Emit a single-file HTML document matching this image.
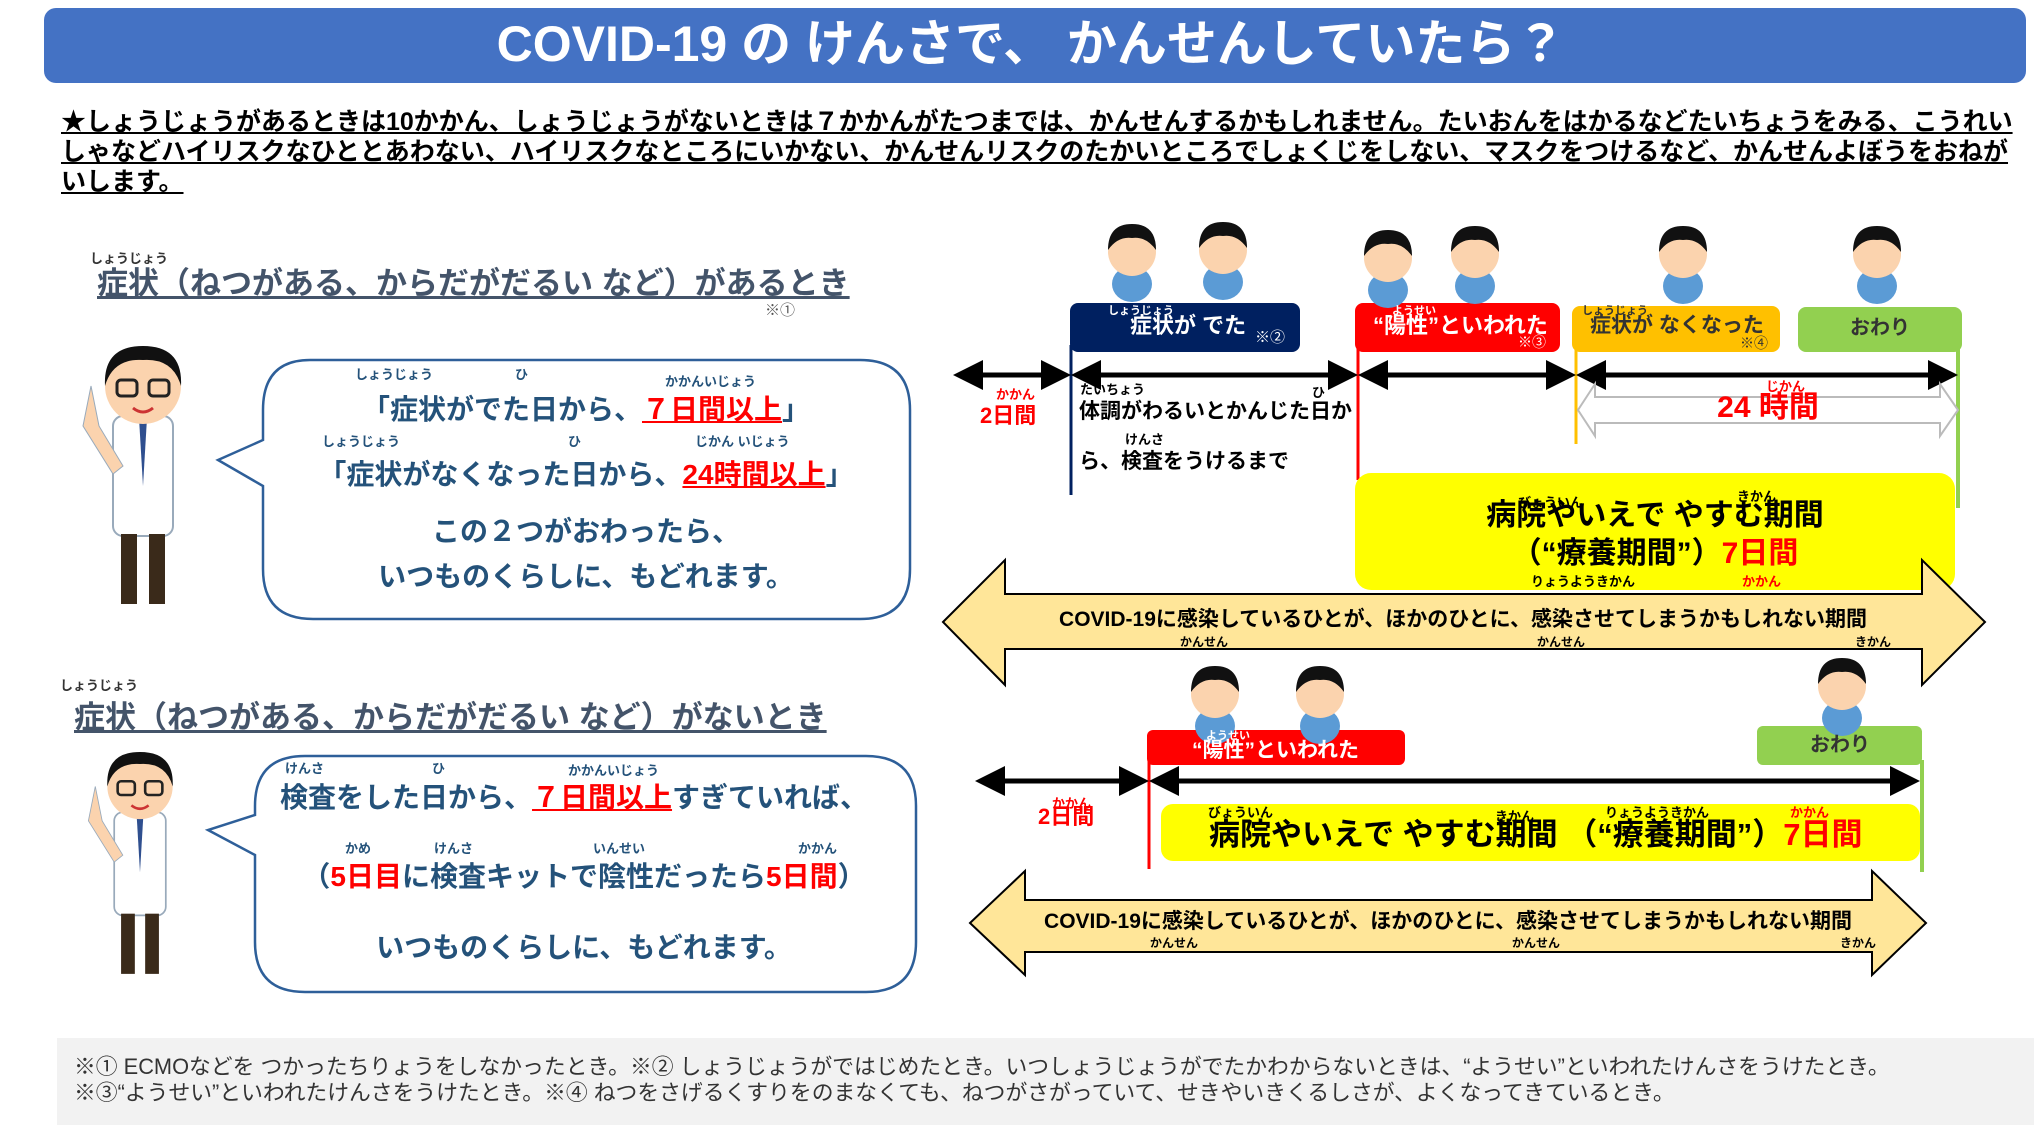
<!DOCTYPE html>
<html><head><meta charset="utf-8">
<style>
*{margin:0;padding:0;box-sizing:border-box}
body{width:2034px;height:1125px;position:relative;background:#fff;overflow:hidden;font-family:"Liberation Sans","Noto Sans CJK JP",sans-serif;font-weight:bold}
.a{position:absolute;white-space:nowrap;line-height:1}
.r{position:absolute;white-space:nowrap;line-height:1;font-size:13px}
.c{transform:translateX(-50%)}
.blue{color:#24527a}
.red{color:#ff0000}
</style></head><body>
<svg width="2034" height="1125" style="position:absolute;left:0;top:0">
<defs>
<marker id="ah" markerWidth="6" markerHeight="6" refX="5" refY="3" orient="auto-start-reverse" markerUnits="strokeWidth"><path d="M0,0 L6,3 L0,6 Z" fill="#000"/></marker>
<g id="kid"><ellipse cx="0" cy="62" rx="20" ry="18" fill="#5b9bd5"/><circle cx="0" cy="30" r="24" fill="#fbd3ae"/><path d="M-24,28 Q-24,2 0,2 Q24,2 24,28 Q14,14 0,16 Q-14,14 -24,28Z" fill="#111"/></g>
<g id="doc"><rect x="-30" y="70" width="60" height="120" rx="10" fill="#fff" stroke="#9ab" stroke-width="2"/><path d="M-4,72 L0,140 L4,72Z" fill="#2f4f8f"/><rect x="-22" y="188" width="16" height="70" fill="#3a2a1a"/><rect x="6" y="188" width="16" height="70" fill="#3a2a1a"/><circle cx="0" cy="40" r="38" fill="#fbd3ae"/><path d="M-38,40 Q-40,0 0,0 Q40,0 38,40 Q30,12 0,14 Q-30,12 -38,40Z" fill="#111"/><rect x="-26" y="34" width="20" height="16" rx="4" fill="none" stroke="#222" stroke-width="3"/><rect x="6" y="34" width="20" height="16" rx="4" fill="none" stroke="#222" stroke-width="3"/><path d="M-10,62 Q0,70 10,62" stroke="#c33" stroke-width="3" fill="none"/><path d="M-60,80 L-52,40 L-44,80 L-20,120 L-30,128Z" fill="#fbd3ae" stroke="#9ab"/></g>
</defs>
<rect x="44" y="8" width="1982" height="75" rx="12" fill="#4472c4"/>
<path d="M310,360 H860 Q910,360 910,410 V569 Q910,619 860,619 H313 Q263,619 263,569 V486 L218,460 L263,440 V410 Q263,360 310,360Z" fill="#fff" stroke="#2e5f99" stroke-width="2.5"/>
<path d="M305,756 H866 Q916,756 916,806 V942 Q916,992 866,992 H305 Q255,992 255,942 V855 L208,830 L255,815 V806 Q255,756 305,756Z" fill="#fff" stroke="#2e5f99" stroke-width="2.5"/>
<use href="#doc" x="143" y="346"/>
<g transform="translate(140,752) scale(0.86)"><use href="#doc"/></g>
<rect x="57" y="1038" width="1977" height="87" fill="#f2f2f2"/>
<rect x="1070" y="303" width="230" height="49" rx="8" fill="#002060"/>
<rect x="1355" y="303" width="205" height="49" rx="8" fill="#ff0000"/>
<rect x="1572" y="306" width="208" height="46" rx="8" fill="#ffc000"/>
<rect x="1798" y="307" width="164" height="45" rx="8" fill="#92d050"/>
<line x1="1071" y1="345" x2="1071" y2="495" stroke="#002060" stroke-width="3"/>
<line x1="1358" y1="345" x2="1358" y2="480" stroke="#ff0000" stroke-width="3"/>
<line x1="1576" y1="345" x2="1576" y2="444" stroke="#ffc000" stroke-width="3"/>
<line x1="1958" y1="345" x2="1958" y2="508" stroke="#92d050" stroke-width="4"/>
<g stroke="#000" stroke-width="5" marker-start="url(#ah)" marker-end="url(#ah)">
<line x1="958" y1="375" x2="1066" y2="375"/><line x1="1076" y1="375" x2="1353" y2="375"/><line x1="1363" y1="375" x2="1571" y2="375"/><line x1="1581" y1="375" x2="1953" y2="375"/>
</g>
<path d="M1578,410 L1595,384 V397 H1940 V384 L1958,410 L1940,436 V423 H1595 V436Z" fill="#fff" stroke="#bbb" stroke-width="2"/>
<rect x="1355" y="473" width="600" height="117" rx="16" fill="#ffff00"/>
<path d="M943,622 L1005,560 V594 H1922 V560 L1985,622 L1922,685 V649 H1005 V685Z" fill="#ffe699" stroke="#000" stroke-width="2"/>
<rect x="1147" y="730" width="258" height="35" rx="6" fill="#ff0000"/>
<rect x="1757" y="726" width="165" height="39" rx="6" fill="#92d050"/>
<line x1="1149" y1="760" x2="1149" y2="869" stroke="#ff0000" stroke-width="3"/>
<line x1="1922" y1="760" x2="1922" y2="872" stroke="#92d050" stroke-width="4"/>
<g stroke="#000" stroke-width="5" marker-start="url(#ah)" marker-end="url(#ah)">
<line x1="980" y1="781" x2="1144" y2="781"/><line x1="1154" y1="781" x2="1915" y2="781"/>
</g>
<rect x="1161" y="804" width="759" height="57" rx="12" fill="#ffff00"/>
<path d="M970,923 L1025,871 V900 H1872 V871 L1926,923 L1872,975 V952 H1025 V975Z" fill="#ffe699" stroke="#000" stroke-width="2"/>
<use href="#kid" x="1132" y="222"/><use href="#kid" x="1223" y="220"/>
<use href="#kid" x="1388" y="228"/><use href="#kid" x="1475" y="224"/>
<use href="#kid" x="1683" y="224"/><use href="#kid" x="1877" y="224"/>
<use href="#kid" x="1215" y="664"/><use href="#kid" x="1320" y="664"/><use href="#kid" x="1842" y="656"/>
</svg>

<div class="a c" style="left:1031px;top:19px;font-size:50px;color:#fff">COVID-19 の けんさで、 かんせんしていたら？</div>
<div class="a" style="left:61px;top:110px;font-size:25px;text-decoration:underline">★しょうじょうがあるときは10かかん、しょうじょうがないときは７かかんがたつまでは、かんせんするかもしれません。たいおんをはかるなどたいちょうをみる、こうれい</div>
<div class="a" style="left:61px;top:140px;font-size:25px;text-decoration:underline">しゃなどハイリスクなひととあわない、ハイリスクなところにいかない、かんせんリスクのたかいところでしょくじをしない、マスクをつけるなど、かんせんよぼうをおねが</div>
<div class="a" style="left:61px;top:170px;font-size:25px;text-decoration:underline">いします。</div>

<div class="r" style="left:90px;top:252px;color:#333">しょうじょう</div>
<div class="a" style="left:97px;top:268px;font-size:31px;color:#44546a;text-decoration:underline">症状（ねつがある、からだがだるい など）があるとき</div>
<div class="a" style="left:765px;top:303px;font-size:15px;color:#555;font-weight:normal">※①</div>

<div class="r blue" style="left:355px;top:368px">しょうじょう</div><div class="r blue" style="left:515px;top:368px">ひ</div><div class="r blue" style="left:665px;top:375px">かかんいじょう</div>
<div class="a c blue" style="left:586px;top:396px;font-size:28px">「症状がでた日から、<span class="red" style="text-decoration:underline">７日間以上</span>」</div>
<div class="r blue" style="left:322px;top:435px">しょうじょう</div><div class="r blue" style="left:568px;top:435px">ひ</div><div class="r blue" style="left:695px;top:435px">じかん いじょう</div>
<div class="a c blue" style="left:586px;top:461px;font-size:28px">「症状がなくなった日から、<span class="red" style="text-decoration:underline">24時間以上</span>」</div>
<div class="a c blue" style="left:586px;top:518px;font-size:28px">この２つがおわったら、</div>
<div class="a c blue" style="left:586px;top:563px;font-size:28px">いつものくらしに、もどれます。</div>

<div class="r" style="left:60px;top:679px;color:#333">しょうじょう</div>
<div class="a" style="left:74px;top:702px;font-size:31px;color:#44546a;text-decoration:underline">症状（ねつがある、からだがだるい など）がないとき</div>

<div class="r blue" style="left:285px;top:762px">けんさ</div><div class="r blue" style="left:432px;top:762px">ひ</div><div class="r blue" style="left:568px;top:764px">かかんいじょう</div>
<div class="a blue" style="left:280px;top:784px;font-size:28px">検査をした日から、<span class="red" style="text-decoration:underline">７日間以上</span>すぎていれば、</div>
<div class="r blue" style="left:345px;top:842px">かめ</div><div class="r blue" style="left:434px;top:842px">けんさ</div><div class="r blue" style="left:593px;top:842px">いんせい</div><div class="r blue" style="left:798px;top:842px">かかん</div>
<div class="a c blue" style="left:584px;top:863px;font-size:28px">（<span class="red">5日目</span>に検査キットで陰性だったら<span class="red">5日間</span>）</div>
<div class="a c blue" style="left:584px;top:934px;font-size:28px">いつものくらしに、もどれます。</div>

<div class="a" style="left:74px;top:1056px;font-size:21.8px;color:#333;font-weight:normal">※① ECMOなどを つかったちりょうをしなかったとき。※② しょうじょうがではじめたとき。いつしょうじょうがでたかわからないときは、“ようせい”といわれたけんさをうけたとき。</div>
<div class="a" style="left:74px;top:1082px;font-size:21.8px;color:#333;font-weight:normal">※③“ようせい”といわれたけんさをうけたとき。※④ ねつをさげるくすりをのまなくても、ねつがさがっていて、せきやいきくるしさが、よくなってきているとき。</div>

<div class="r" style="left:1108px;top:306px;color:#fff;font-size:11px">しょうじょう</div>
<div class="a" style="left:1130px;top:315px;font-size:22px;color:#fff">症状が でた</div>
<div class="a" style="left:1255px;top:330px;font-size:15px;color:#fff;font-weight:normal">※②</div>
<div class="r" style="left:1392px;top:306px;color:#fff;font-size:11px">ようせい</div>
<div class="a" style="left:1373px;top:315px;font-size:22px;color:#fff">“陽性”といわれた</div>
<div class="a" style="left:1518px;top:335px;font-size:14px;color:#fff;font-weight:normal">※③</div>
<div class="r" style="left:1582px;top:306px;color:#333;font-size:11px">しょうじょう</div>
<div class="a" style="left:1590px;top:315px;font-size:21px;color:#333">症状が なくなった</div>
<div class="a" style="left:1740px;top:336px;font-size:14px;color:#333;font-weight:normal">※④</div>
<div class="a c" style="left:1880px;top:318px;font-size:20px;color:#333">おわり</div>
<div class="r red" style="left:996px;top:388px">かかん</div>
<div class="a" style="left:980px;top:405px;font-size:22px;color:#f00">2日間</div>
<div class="r" style="left:1080px;top:383px">たいちょう</div><div class="r" style="left:1312px;top:386px">ひ</div>
<div class="a" style="left:1079px;top:401px;font-size:21px">体調がわるいとかんじた日か</div>
<div class="r" style="left:1125px;top:433px">けんさ</div>
<div class="a" style="left:1079px;top:451px;font-size:21px">ら、検査をうけるまで</div>
<div class="r red" style="left:1766px;top:380px">じかん</div>
<div class="a c red" style="left:1768px;top:393px;font-size:30px">24 時間</div>
<div class="r" style="left:1518px;top:496px">びょういん</div><div class="r" style="left:1737px;top:490px">きかん</div>
<div class="a c" style="left:1655px;top:501px;font-size:30px">病院やいえで やすむ期間</div>
<div class="a c" style="left:1655px;top:539px;font-size:30px">（“療養期間”）<span class="red">7日間</span></div>
<div class="r" style="left:1531px;top:575px">りょうようきかん</div><div class="r red" style="left:1742px;top:575px">かかん</div>
<div class="a c" style="left:1463px;top:609px;font-size:21px">COVID-19に感染しているひとが、ほかのひとに、感染させてしまうかもしれない期間</div>
<div class="r" style="left:1180px;top:636px;font-size:12px">かんせん</div><div class="r" style="left:1537px;top:636px;font-size:12px">かんせん</div><div class="r" style="left:1855px;top:636px;font-size:12px">きかん</div>
<div class="r" style="left:1206px;top:731px;color:#fff;font-size:11px">ようせい</div>
<div class="a" style="left:1192px;top:740px;font-size:21px;color:#fff">“陽性”といわれた</div>
<div class="a c" style="left:1840px;top:735px;font-size:20px;color:#333">おわり</div>
<div class="r red" style="left:1052px;top:797px">かかん</div>
<div class="a" style="left:1038px;top:806px;font-size:22px;color:#f00">2日間</div>
<div class="r" style="left:1208px;top:806px">びょういん</div><div class="r" style="left:1495px;top:810px">きかん</div><div class="r" style="left:1605px;top:806px">りょうようきかん</div><div class="r red" style="left:1790px;top:806px">かかん</div>
<div class="a" style="left:1209px;top:819px;font-size:31px">病院やいえで やすむ期間 （“療養期間”）<span class="red">7日間</span></div>
<div class="a c" style="left:1448px;top:911px;font-size:21px">COVID-19に感染しているひとが、ほかのひとに、感染させてしまうかもしれない期間</div>
<div class="r" style="left:1150px;top:937px;font-size:12px">かんせん</div><div class="r" style="left:1512px;top:937px;font-size:12px">かんせん</div><div class="r" style="left:1840px;top:937px;font-size:12px">きかん</div>
</body></html>
